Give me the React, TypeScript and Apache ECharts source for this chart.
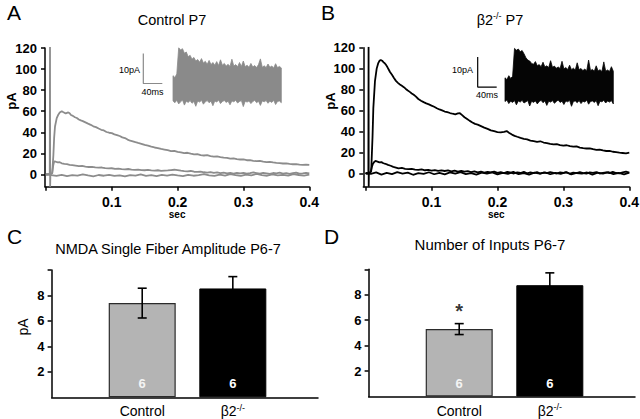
import React, { useEffect, useRef } from 'react';
import * as echarts from 'echarts';

const FONT = '"Liberation Sans", Arial, Helvetica, sans-serif';

// ---------- Panel A / B traces: [time (s), current (pA)] ----------
const ctrlEpsc: number[][] = [
  [0, 0.2], [0.002, -0.3], [0.004, 0.4], [0.0058, 0.3], [0.0062, 121], [0.0064, -11.6], [0.0068, 0.4],
  [0.008, 0.8], [0.0095, 1.5], [0.0113, 18], [0.0125, 35], [0.0138, 45.5], [0.0164, 53.4], [0.019, 57],
  [0.021, 58.8], [0.024, 60], [0.026, 59.2], [0.028, 58.5], [0.03, 57.8], [0.032, 58.4], [0.034, 58.9],
  [0.036, 58.1], [0.038, 56.4], [0.041, 55.6], [0.044, 54.3], [0.047, 53.6], [0.05, 52.2], [0.053, 51.3],
  [0.056, 50.6], [0.06, 49.4], [0.064, 48.2], [0.068, 47.1], [0.072, 45.7], [0.076, 44.9], [0.08, 43.6],
  [0.084, 42.4], [0.088, 41.8], [0.092, 40.3], [0.096, 39.6], [0.1, 39.2], [0.104, 38.1], [0.108, 37.4],
  [0.112, 36.5], [0.116, 35.2], [0.12, 34.6], [0.124, 33.1], [0.128, 32.0], [0.132, 31.4], [0.136, 30.6],
  [0.14, 29.9], [0.145, 29.1], [0.15, 28.0], [0.155, 27.3], [0.16, 26.4], [0.165, 25.6], [0.17, 25.1],
  [0.175, 24.2], [0.18, 23.6], [0.185, 23.0], [0.19, 22.1], [0.195, 22.3], [0.2, 21.4], [0.205, 21.0],
  [0.21, 20.3], [0.215, 20.6], [0.22, 19.8], [0.225, 19.1], [0.23, 19.3], [0.235, 18.4], [0.24, 18.0],
  [0.245, 18.3], [0.25, 17.5], [0.255, 16.9], [0.26, 17.2], [0.265, 16.5], [0.27, 16.0], [0.275, 15.8],
  [0.28, 15.1], [0.285, 15.3], [0.29, 14.6], [0.295, 14.2], [0.3, 14.3], [0.305, 13.5], [0.31, 13.7],
  [0.315, 13.0], [0.32, 12.6], [0.325, 12.9], [0.33, 12.2], [0.335, 11.7], [0.34, 12.0], [0.345, 11.4],
  [0.35, 11.0], [0.355, 10.8], [0.36, 10.4], [0.365, 10.6], [0.37, 10.0], [0.375, 9.7], [0.38, 9.9],
  [0.385, 9.3], [0.39, 9.1], [0.395, 9.4], [0.4, 9.2],
];

const ctrlSmall: number[][] = [
  [0, -0.2], [0.003, 0.3], [0.006, 0.1], [0.008, 0.6], [0.0095, 1], [0.0112, 9], [0.0125, 12.3],
  [0.015, 12.1], [0.018, 11.4], [0.021, 11.6], [0.024, 10.6], [0.028, 10.1], [0.032, 9.8], [0.036, 9.2],
  [0.04, 8.9], [0.045, 8.4], [0.05, 7.9], [0.055, 8.1], [0.06, 7.4], [0.065, 7.1], [0.07, 7.3],
  [0.075, 6.8], [0.08, 6.5], [0.085, 6.6], [0.09, 6.1], [0.095, 5.8], [0.1, 5.9], [0.105, 5.4],
  [0.11, 5.6], [0.115, 5.1], [0.12, 4.9], [0.125, 5.2], [0.13, 4.6], [0.135, 4.3], [0.14, 4.7],
  [0.145, 4.2], [0.15, 4.0], [0.155, 4.3], [0.16, 3.8], [0.165, 3.6], [0.17, 4.0], [0.175, 3.4],
  [0.18, 3.7], [0.185, 3.9], [0.19, 4.2], [0.195, 4.5], [0.2, 4.1], [0.205, 3.6], [0.21, 3.2],
  [0.215, 2.9], [0.22, 3.3], [0.225, 2.6], [0.23, 2.4], [0.235, 2.8], [0.24, 2.1], [0.245, 1.8],
  [0.25, 2.3], [0.255, 1.6], [0.26, 1.9], [0.265, 1.3], [0.27, 1.7], [0.275, 1.1], [0.28, 1.5],
  [0.285, 0.9], [0.29, 1.4], [0.295, 1.0], [0.3, 1.6], [0.305, 0.8], [0.31, 1.2], [0.315, 1.9],
  [0.32, 1.3], [0.325, 0.7], [0.33, 1.5], [0.335, 1.1], [0.34, 0.6], [0.345, 1.4], [0.35, 1.0],
  [0.355, 1.7], [0.36, 0.9], [0.365, 1.3], [0.37, 0.5], [0.375, 1.2], [0.38, 1.8], [0.385, 0.8],
  [0.39, 1.1], [0.395, 1.6], [0.4, 1.0],
];

const ctrlFailure: number[][] = [
  [0, 0.2], [0.008, -0.6], [0.016, -1.3], [0.024, -0.4], [0.032, -1.6], [0.04, -0.7], [0.048, -1.1],
  [0.056, 0.2], [0.064, -0.9], [0.072, -1.8], [0.08, -0.5], [0.088, -1.2], [0.096, -0.3], [0.104, -1.4],
  [0.112, -0.8], [0.12, -1.9], [0.128, -0.6], [0.136, -1.0], [0.144, 0.1], [0.152, -1.3], [0.16, -0.7],
  [0.168, -1.6], [0.176, -0.4], [0.184, -1.1], [0.192, -0.2], [0.2, -0.9], [0.208, -1.5], [0.216, -0.3],
  [0.224, -1.2], [0.232, -0.6], [0.24, 0.3], [0.248, -0.8], [0.256, -1.4], [0.264, -0.2], [0.272, -1.0],
  [0.28, 0.4], [0.288, -0.7], [0.296, -1.3], [0.304, -0.1], [0.312, -0.9], [0.32, 0.5], [0.328, -0.6],
  [0.336, -1.2], [0.344, 0.2], [0.352, -0.8], [0.36, -0.3], [0.368, -1.1], [0.376, 0.3], [0.384, -0.5],
  [0.392, -1.0], [0.4, -0.2],
];

const koEpsc: number[][] = [
  [0, 0.3], [0.002, -0.4], [0.0042, 0.2], [0.0045, 121], [0.0047, -12.8], [0.005, 0.4], [0.007, 0.8],
  [0.0085, 2], [0.0105, 35], [0.0117, 62], [0.0142, 88], [0.0168, 100], [0.019, 105], [0.021, 107.5],
  [0.023, 108.3], [0.025, 107.6], [0.027, 106.2], [0.029, 105.1], [0.031, 103.6], [0.033, 101.5],
  [0.035, 99.2], [0.037, 96.8], [0.04, 94.1], [0.043, 91.0], [0.046, 88.3], [0.049, 86.4], [0.052, 84.9],
  [0.055, 83.6], [0.058, 82.3], [0.061, 80.6], [0.064, 79.1], [0.067, 77.8], [0.07, 76.3], [0.073, 75.0],
  [0.076, 73.5], [0.08, 71.0], [0.084, 69.4], [0.088, 68.0], [0.092, 66.8], [0.096, 65.9], [0.1, 64.7],
  [0.104, 63.6], [0.108, 62.2], [0.112, 61.0], [0.116, 60.1], [0.12, 59.0], [0.124, 58.4], [0.128, 57.6],
  [0.132, 56.9], [0.136, 56.3], [0.14, 57.2], [0.143, 57.4], [0.146, 55.8], [0.15, 53.6], [0.154, 51.9],
  [0.158, 50.1], [0.162, 48.6], [0.166, 47.2], [0.17, 46.5], [0.175, 45.1], [0.18, 43.6], [0.185, 42.4],
  [0.19, 41.0], [0.195, 40.2], [0.2, 39.4], [0.205, 39.0], [0.21, 39.6], [0.214, 40.3], [0.218, 38.6],
  [0.222, 37.0], [0.226, 35.8], [0.23, 34.9], [0.235, 33.8], [0.24, 32.9], [0.245, 32.5], [0.25, 31.3],
  [0.255, 30.8], [0.26, 30.1], [0.265, 30.6], [0.27, 29.4], [0.275, 28.9], [0.28, 28.2], [0.285, 27.6],
  [0.29, 27.9], [0.295, 27.0], [0.3, 26.5], [0.305, 26.8], [0.31, 25.9], [0.315, 25.4], [0.32, 25.7],
  [0.325, 24.6], [0.33, 24.1], [0.335, 23.7], [0.34, 23.9], [0.345, 23.0], [0.35, 22.4], [0.355, 22.7],
  [0.36, 21.8], [0.365, 21.3], [0.37, 21.5], [0.375, 20.6], [0.38, 20.2], [0.385, 19.7], [0.39, 19.4],
  [0.395, 19.1], [0.4, 19.8],
];

const koSmall: number[][] = [
  [0, -0.3], [0.004, 0.2], [0.0065, 0], [0.008, 2], [0.0095, 6], [0.011, 9], [0.013, 10.8], [0.015, 11.8],
  [0.018, 11.2], [0.021, 10.4], [0.024, 10.7], [0.027, 9.6], [0.03, 9.1], [0.034, 8.0], [0.038, 7.2],
  [0.042, 6.1], [0.046, 5.5], [0.05, 4.8], [0.055, 5.1], [0.06, 4.3], [0.065, 3.9], [0.07, 4.2],
  [0.075, 3.6], [0.08, 3.2], [0.085, 3.8], [0.09, 2.9], [0.095, 3.3], [0.1, 2.6], [0.105, 3.1],
  [0.11, 2.4], [0.115, 2.9], [0.12, 2.2], [0.125, 2.7], [0.13, 1.9], [0.135, 2.5], [0.14, 1.7],
  [0.145, 2.3], [0.15, 1.5], [0.155, 2.1], [0.16, 1.2], [0.165, 1.9], [0.17, 0.9], [0.175, 1.6],
  [0.18, 0.7], [0.185, 1.4], [0.19, 0.9], [0.195, 1.6], [0.2, 0.4], [0.205, 1.2], [0.21, 0.2],
  [0.215, 1.4], [0.22, 0.6], [0.225, -0.2], [0.23, 1.0], [0.235, 0.3], [0.24, 1.3], [0.245, -0.1],
  [0.25, 0.8], [0.255, 0.2], [0.26, 1.1], [0.265, -0.3], [0.27, 0.7], [0.275, 0.1], [0.28, 1.2],
  [0.285, 0.4], [0.29, -0.2], [0.295, 0.9], [0.3, 0.3], [0.305, 1.0], [0.31, -0.4], [0.315, 0.6],
  [0.32, 0.1], [0.325, 1.1], [0.33, 0.2], [0.335, -0.3], [0.34, 0.8], [0.345, 0.4], [0.35, 1.2],
  [0.355, -0.2], [0.36, 0.5], [0.365, 0.9], [0.37, 0.1], [0.375, 1.3], [0.38, 0.3], [0.385, -0.1],
  [0.39, 0.8], [0.395, 1.5], [0.4, 0.6],
];

const koFailure: number[][] = [
  [0, 0.3], [0.008, -0.5], [0.016, 0.9], [0.024, -1.2], [0.032, 0.4], [0.04, -0.8], [0.048, 1.1],
  [0.056, -0.3], [0.064, 0.6], [0.072, -1.4], [0.08, 0.2], [0.088, -0.6], [0.096, 1.0], [0.104, -0.9],
  [0.112, 0.5], [0.12, -1.1], [0.128, 0.8], [0.136, -0.4], [0.144, 1.2], [0.152, -0.7], [0.16, 0.1],
  [0.168, -1.3], [0.176, 0.7], [0.184, -0.2], [0.192, 0.9], [0.2, -1.0], [0.208, 0.4], [0.216, -0.5],
  [0.224, 1.3], [0.232, -0.8], [0.24, 0.2], [0.248, -1.2], [0.256, 0.6], [0.264, -0.3], [0.272, 1.0],
  [0.28, -0.9], [0.288, 0.5], [0.296, -0.6], [0.304, 1.1], [0.312, -1.1], [0.32, 0.3], [0.328, -0.4],
  [0.336, 0.8], [0.344, -1.3], [0.352, 0.7], [0.36, -0.2], [0.368, 1.2], [0.376, -0.7], [0.384, 0.4],
  [0.392, -1.0], [0.4, 0.6],
];

// ---------- Insets: superimposed sweeps, envelope of the overlay (ms, pA) ----------
const insetTimeMs = [
  0, 4, 8, 12, 16, 20, 24, 28, 32, 36, 40, 44, 48, 52, 56, 60, 64, 68, 72, 76, 80, 84, 88, 92, 96, 100,
  104, 108, 112, 116, 120, 124, 128, 132, 136, 140, 144, 148, 152, 156, 160, 164, 168, 172, 176, 180,
  184, 188, 192, 196, 200, 204, 208, 212, 216, 220, 224, 228,
];
const ctrlInsetUpper = [
  4.1, 3.5, 4.7, 13.4, 12.7, 13.1, 11.6, 12.0, 10.4, 10.9, 9.6, 10.2, 9.0, 9.5, 8.6, 9.8, 8.3, 8.9, 7.9,
  9.2, 7.8, 8.5, 7.6, 8.8, 7.5, 9.4, 7.6, 8.2, 7.3, 7.9, 7.2, 9.6, 7.3, 7.8, 7.1, 8.5, 7.2, 9.0, 7.1,
  7.6, 6.9, 8.2, 7.0, 7.5, 6.8, 7.8, 9.7, 6.9, 7.4, 6.8, 8.0, 6.9, 7.3, 6.7, 8.1, 6.8, 7.2, 6.7,
];
const ctrlInsetLower = [
  -4.3, -4.9, -4.1, -5.3, -4.6, -4.0, -5.7, -4.4, -4.8, -4.2, -5.1, -4.5, -6.1, -4.3, -4.7, -4.1, -5.4,
  -4.6, -4.2, -4.9, -4.4, -5.9, -4.3, -4.7, -4.0, -5.2, -4.5, -4.2, -4.8, -4.4, -5.6, -4.3, -4.6, -4.1,
  -5.0, -4.5, -4.2, -6.2, -4.4, -4.7, -4.3, -5.2, -4.5, -4.1, -4.9, -4.4, -5.8, -4.3, -4.6, -4.2, -5.1,
  -4.4, -4.8, -4.1, -5.5, -4.5, -4.3, -4.9,
];
const koInsetUpper = [
  3.4, 2.8, 4.1, 3.2, 3.9, 13.2, 12.6, 13.0, 12.1, 12.5, 11.4, 10.1, 9.3, 9.0, 8.2, 7.9, 8.8, 7.4, 7.8,
  7.1, 8.6, 7.0, 7.4, 6.8, 9.1, 6.9, 7.3, 6.6, 7.0, 6.5, 8.9, 6.4, 6.8, 6.2, 7.6, 6.1, 6.6, 6.0, 8.4,
  6.1, 6.5, 5.8, 6.3, 5.7, 9.3, 5.8, 6.2, 5.6, 7.4, 5.7, 6.1, 5.5, 8.7, 5.6, 6.0, 5.5, 7.1, 5.6,
];
const koInsetLower = [
  -4.5, -4.0, -5.2, -4.4, -4.8, -4.2, -5.6, -4.3, -4.7, -4.1, -5.0, -4.6, -4.2, -6.0, -4.4, -4.8, -4.3,
  -5.3, -4.5, -4.1, -4.9, -4.3, -5.8, -4.4, -4.7, -4.2, -5.1, -4.5, -4.0, -4.8, -4.4, -5.5, -4.3, -4.6,
  -4.1, -6.1, -4.5, -4.3, -4.9, -4.2, -5.2, -4.4, -4.7, -4.0, -5.4, -4.5, -4.3, -4.8, -4.2, -5.9, -4.4,
  -4.6, -4.1, -5.0, -4.3, -4.7, -4.2, -5.3,
];
const scaleBarPA = 10;
const scaleBarMs = 40;

// ---------- Panels C / D ----------
const barGroups = [1, 2];
const barNames = ['Control', 'β2'];
const barNameSup = ['', '-/-'];
const amplitudeMean = [7.4, 8.55];
const amplitudeSem = [1.17, 0.93];
const inputsMean = [5.3, 8.75];
const inputsSem = [0.43, 0.97];
const cellCounts = [6, 6];
const inputsSignificance = ['*', ''];

const traceTimeLabels = [0.1, 0.2, 0.3, 0.4];
const traceTimeTicks = [0, 0.1, 0.2, 0.3, 0.4];
const currentTicks = [0, 20, 40, 60, 80, 100, 120];
const barValueLabels = [2, 4, 6, 8];
const barValueTicks = [2, 4, 6, 8, 10];

const GRAY = '#8c8c8c';
const BLACK = '#000000';

const axisLine = { show: true, onZero: false, lineStyle: { color: '#000', width: 1.5 } };
const tickLabel = { color: '#000', fontFamily: FONT, fontWeight: 'bold' as const, fontSize: 13 };

function traceXAxis(gridIndex: number, min: number) {
  return {
    type: 'value', gridIndex, min, max: 0.4,
    axisLine,
    axisTick: { show: true, customValues: traceTimeTicks, length: 4, lineStyle: { color: '#000', width: 1.5 } },
    axisLabel: { ...tickLabel, fontSize: 14, customValues: traceTimeLabels, margin: 8 },
    splitLine: { show: false },
    name: 'sec', nameLocation: 'middle', nameGap: 17,
    nameTextStyle: { color: '#000', fontFamily: FONT, fontWeight: 'bold', fontSize: 10 },
  };
}
function traceYAxis(gridIndex: number, min: number) {
  return {
    type: 'value', gridIndex, min, max: 120,
    axisLine,
    axisTick: { show: true, customValues: currentTicks, length: 4, lineStyle: { color: '#000', width: 1.5 } },
    axisLabel: { ...tickLabel, customValues: currentTicks, margin: 8 },
    splitLine: { show: false },
  };
}
function hiddenAxis(gridIndex: number, min: number, max: number) {
  return { type: 'value', gridIndex, min, max, show: false, splitLine: { show: false } };
}
function barXAxis(gridIndex: number) {
  return {
    type: 'value', gridIndex, min: 0, max: 2.94,
    axisLine,
    axisTick: { show: false },
    splitLine: { show: false },
    axisLabel: {
      customValues: barGroups, margin: 6,
      formatter: (v: number) => {
        const i = barGroups.indexOf(v);
        return '{n|' + barNames[i] + '}' + (barNameSup[i] ? '{s|' + barNameSup[i] + '}' : '');
      },
      rich: {
        n: { fontSize: 14, lineHeight: 16, fontFamily: FONT, color: '#000' },
        s: { fontSize: 9, lineHeight: 16, fontFamily: FONT, color: '#000', verticalAlign: 'top' },
      },
    },
  };
}
function barYAxis(gridIndex: number) {
  return {
    type: 'value', gridIndex, min: 0, max: 10,
    axisLine,
    axisTick: { show: true, customValues: barValueTicks, length: 4, lineStyle: { color: '#000', width: 1.5 } },
    axisLabel: { ...tickLabel, customValues: barValueLabels, margin: 7 },
    splitLine: { show: false },
  };
}

function traceSeries(idx: number, data: number[][], color: string) {
  return {
    type: 'line', xAxisIndex: idx, yAxisIndex: idx, data, showSymbol: false, symbol: 'none',
    lineStyle: { color, width: 1.8 }, silent: true, clip: true,
  };
}
function bandSeries(idx: number, upper: number[], lower: number[], color: string) {
  return {
    type: 'custom', xAxisIndex: idx, yAxisIndex: idx, data: [[0, 0]], silent: true,
    renderItem: (_p: any, api: any) => {
      const pts: number[][] = [];
      for (let i = 0; i < insetTimeMs.length; i++) pts.push(api.coord([insetTimeMs[i], upper[i]]));
      for (let i = insetTimeMs.length - 1; i >= 0; i--) pts.push(api.coord([insetTimeMs[i], lower[i]]));
      return { type: 'polygon', shape: { points: pts }, style: { fill: color, stroke: color, lineWidth: 0.8 } };
    },
  };
}
function scaleBarSeries(idx: number, x0: number, y0: number, color: string) {
  return {
    type: 'line', xAxisIndex: idx, yAxisIndex: idx, showSymbol: false, symbol: 'none', silent: true,
    data: [[x0, y0 + scaleBarPA], [x0, y0], [x0 + scaleBarMs, y0]],
    lineStyle: { color, width: 1.2 },
  };
}
function barSeries(idx: number, means: number[]) {
  return {
    type: 'bar', xAxisIndex: idx, yAxisIndex: idx, barWidth: 67, silent: true,
    data: barGroups.map((g, i) => ({
      value: [g, means[i]],
      itemStyle: i === 0
        ? { color: '#b4b4b4', borderColor: '#2b2b2b', borderWidth: 1.2 }
        : { color: '#000', borderColor: '#000', borderWidth: 1 },
      label: { color: i === 0 ? '#f4f4f4' : '#ffffff' },
    })),
    label: {
      show: true, position: 'insideBottom', distance: 7, fontSize: 13, fontWeight: 'bold', fontFamily: FONT,
      formatter: (p: any) => String(cellCounts[p.dataIndex]),
    },
  };
}
function errorSeries(idx: number, means: number[], sems: number[]) {
  return {
    type: 'custom', xAxisIndex: idx, yAxisIndex: idx, z: 5, silent: true,
    data: barGroups.map((g, i) => [g, means[i], sems[i]]),
    encode: { x: 0, y: 1 },
    renderItem: (_p: any, api: any) => {
      const x = api.value(0), m = api.value(1), e = api.value(2);
      const hi = api.coord([x, m + e]);
      const lo = api.coord([x, m - e]);
      const w = 4.5;
      const st = { stroke: '#000', lineWidth: 1.6 };
      return {
        type: 'group',
        children: [
          { type: 'line', shape: { x1: hi[0], y1: hi[1], x2: lo[0], y2: lo[1] }, style: st },
          { type: 'line', shape: { x1: hi[0] - w, y1: hi[1], x2: hi[0] + w, y2: hi[1] }, style: st },
          { type: 'line', shape: { x1: lo[0] - w, y1: lo[1], x2: lo[0] + w, y2: lo[1] }, style: st },
        ],
      };
    },
  };
}

function txt(x: number, y: number, text: string, font: string, align = 'left', extra: any = {}) {
  return {
    type: 'text', x, y, silent: true, ...extra,
    style: { text, font, fill: '#000', align, verticalAlign: 'middle', ...(extra.style || {}) },
  };
}

const option: any = {
  animation: false,
  backgroundColor: '#ffffff',
  grid: [
    { left: 45, top: 48, width: 264.3, height: 138.7, outerBoundsMode: 'none' },
    { left: 363.3, top: 47.7, width: 266, height: 139, outerBoundsMode: 'none' },
    { left: 116, top: 40, width: 165.3, height: 72, outerBoundsMode: 'none' },
    { left: 448, top: 40, width: 165.3, height: 72, outerBoundsMode: 'none' },
    { left: 51.6, top: 270, width: 266.4, height: 127.3, outerBoundsMode: 'none' },
    { left: 368.6, top: 269.3, width: 266.4, height: 127.2, outerBoundsMode: 'none' },
  ],
  xAxis: [
    traceXAxis(0, -0.0014),
    traceXAxis(1, -0.0035),
    hiddenAxis(2, -120, 228),
    hiddenAxis(3, -120, 228),
    barXAxis(4),
    barXAxis(5),
  ],
  yAxis: [
    traceYAxis(0, -11.6),
    traceYAxis(1, -12.8),
    hiddenAxis(2, -8, 16),
    hiddenAxis(3, -8, 16),
    barYAxis(4),
    barYAxis(5),
  ],
  series: [
    traceSeries(0, ctrlFailure, GRAY),
    traceSeries(0, ctrlSmall, GRAY),
    traceSeries(0, ctrlEpsc, GRAY),
    traceSeries(1, koFailure, BLACK),
    traceSeries(1, koSmall, BLACK),
    traceSeries(1, koEpsc, BLACK),
    bandSeries(2, ctrlInsetUpper, ctrlInsetLower, '#8a8a8a'),
    bandSeries(3, koInsetUpper, koInsetLower, '#050505'),
    scaleBarSeries(2, -62.5, 1.5, '#8a8a8a'),
    scaleBarSeries(3, -57.5, 0.3, '#000'),
    barSeries(4, amplitudeMean),
    errorSeries(4, amplitudeMean, amplitudeSem),
    barSeries(5, inputsMean),
    errorSeries(5, inputsMean, inputsSem),
    {
      type: 'scatter', xAxisIndex: 5, yAxisIndex: 5, silent: true, symbolSize: 1,
      itemStyle: { color: 'rgba(0,0,0,0)' },
      data: [[barGroups[0], inputsMean[0] + inputsSem[0] + 1.0]],
      label: {
        show: true, position: 'inside', fontSize: 20, fontWeight: 'bold', fontFamily: FONT, color: '#000',
        formatter: (p: any) => inputsSignificance[p.dataIndex],
      },
    },
  ],
  graphic: [
    txt(7, 12, 'A', '21px ' + FONT),
    txt(321, 12, 'B', '21px ' + FONT),
    txt(7, 236, 'C', '21px ' + FONT),
    txt(324, 236, 'D', '21px ' + FONT),
    txt(172, 20, 'Control P7', '14.5px ' + FONT, 'center'),
    {
      type: 'text', x: 500, y: 20, silent: true,
      style: {
        text: '{a|β2}{b|-/-}{a| P7}', align: 'center', verticalAlign: 'middle',
        rich: {
          a: { fontSize: 14.5, lineHeight: 17, fontFamily: FONT, fill: '#000' },
          b: { fontSize: 9, lineHeight: 17, fontFamily: FONT, fill: '#000', verticalAlign: 'top' },
        },
      },
    },
    txt(168, 249, 'NMDA Single Fiber Amplitude P6-7', '14.5px ' + FONT, 'center'),
    txt(490, 244, 'Number of Inputs P6-7', '15px ' + FONT, 'center'),
    txt(11, 101, 'pA', 'bold 13px ' + FONT, 'center', { rotation: Math.PI / 2 }),
    txt(330, 101, 'pA', 'bold 13px ' + FONT, 'center', { rotation: Math.PI / 2 }),
    txt(23, 327, 'pA', '14px ' + FONT, 'center', { rotation: Math.PI / 2 }),
    txt(140, 70, '10pA', '9px ' + FONT, 'right'),
    txt(152.5, 92, '40ms', '9px ' + FONT, 'center'),
    txt(473, 70, '10pA', '9px ' + FONT, 'right'),
    txt(487, 95, '40ms', '9px ' + FONT, 'center'),
  ],
};

export default function App() {
  const ref = useRef<HTMLDivElement>(null);
  useEffect(() => {
    document.body.style.margin = '0';
    const chart = echarts.init(ref.current as HTMLDivElement, null, { renderer: 'svg' });
    chart.setOption(option);
    return () => chart.dispose();
  }, []);
  return (
    <div
      ref={ref}
      style={{ position: 'fixed', left: 0, top: 0, width: 640, height: 419, background: '#fff' }}
    />
  );
}
